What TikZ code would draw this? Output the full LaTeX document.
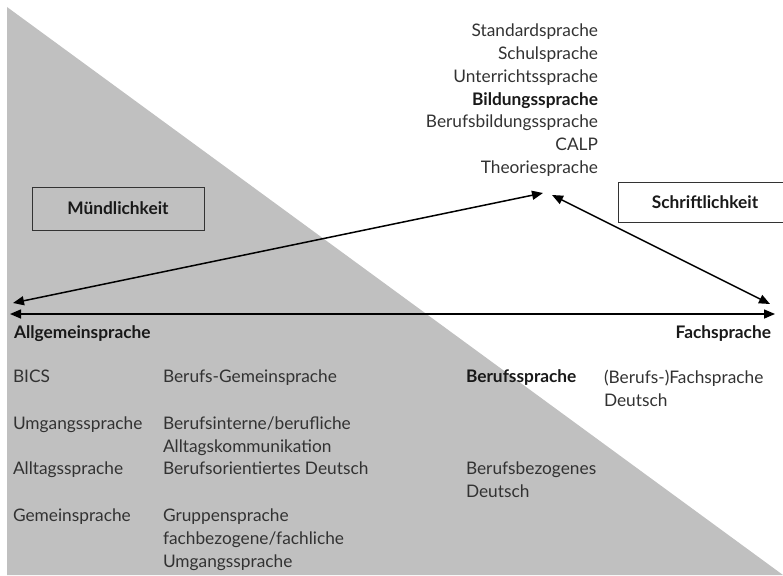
\documentclass[tikz,border=0pt]{standalone}
\usepackage{fontspec}
\setmainfont{Lato}
\usetikzlibrary{arrows.meta}
\definecolor{flaeche}{RGB}{192,192,192}
\definecolor{schrift}{RGB}{50,50,50}

\begin{document}
\begin{tikzpicture}[x=1pt,y=-1pt,
  every node/.style={inner sep=0pt, outer sep=0pt, text=schrift, font=\fontsize{17.3}{22.8}\selectfont},
  begriff/.style={anchor=north west, align=left},
  fett/.style={font=\fontsize{17.3}{22.8}\selectfont\bfseries, text=black!90},
  rahmen/.style={draw=black!80, line width=0.9pt},
  pfeil/.style={line width=1.5pt, {Triangle[length=11pt,width=9pt]}-{Triangle[length=11pt,width=9pt]}}]
\useasboundingbox (0,0) rectangle (783,575);

\fill[flaeche] (7,7) -- (7,575) -- (783,575) -- cycle;

% Kaesten
\draw[rahmen] (32,187) rectangle (204,230);
\node[fett] (muendlich) at (118,208.5) {Mündlichkeit};
\draw[rahmen, fill=white] (618,182) rectangle (790,222);
\node[fett] (schriftlich) at (705,202) {Schriftlichkeit};

% oben
\node[anchor=north east, align=right] (oben) at (598,24) {Standardsprache\\Schulsprache\\Unterrichtssprache\\{\bfseries\color{black!90}Bildungssprache}\\Berufsbildungssprache\\CALP\\Theoriesprache};

% Pfeile
\coordinate (spitzel) at (543,193);
\coordinate (spitzer) at (552,195);
\coordinate (linksoben) at (13,303);
\coordinate (rechtsoben) at (770,304);
\coordinate (achsel) at (10,314);
\coordinate (achser) at (775,314);
\draw[pfeil] (linksoben) -- (spitzel);
\draw[pfeil] (spitzer) -- (rechtsoben);
\draw[pfeil] (achsel) -- (achser);

\node[fett, anchor=west] (allgemein) at (14,334) {Allgemeinsprache};
\node[fett, anchor=east] (fach) at (771,334) {Fachsprache};

% Tabelle unten
\node[begriff] (bics) at (13,370) {BICS};
\node[begriff] (umgang) at (13,417) {Umgangssprache};
\node[begriff] (alltag) at (13,462) {Alltagssprache};
\node[begriff] (gemein) at (13,509) {Gemeinsprache};

\node[begriff] (bgemein) at (163,370) {Berufs-Gemeinsprache};
\node[begriff] (binterne) at (163,417) {Berufsinterne/berufliche\\Alltagskommunikation};
\node[begriff] (borient) at (163,462) {Berufsorientiertes Deutsch};
\node[begriff] (gruppe) at (163,509) {Gruppensprache\\fachbezogene/fachliche\\Umgangssprache};

\node[begriff, fett] (beruf) at (466,370) {Berufssprache};
\node[begriff] (bbezogen) at (466,462) {Berufsbezogenes\\Deutsch};

\node[begriff] (bfach) at (604,370) {(Berufs-)Fachsprache\\Deutsch};
\end{tikzpicture}
\end{document}
